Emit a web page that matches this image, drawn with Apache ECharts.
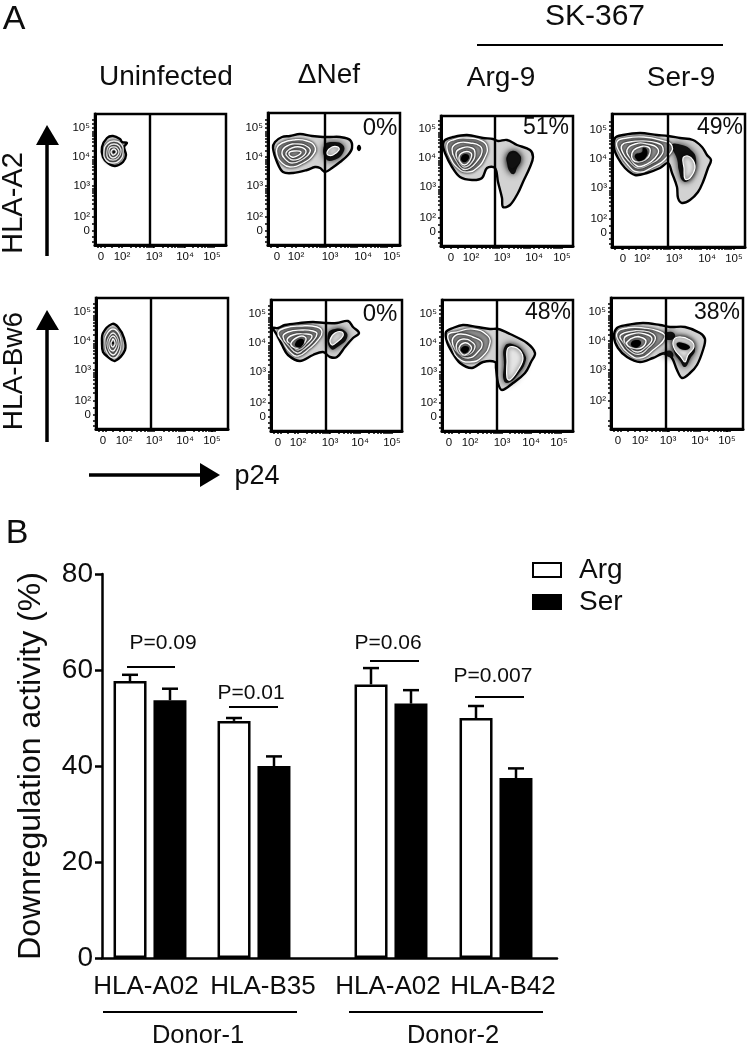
<!DOCTYPE html>
<html><head><meta charset="utf-8">
<style>html,body{margin:0;padding:0;background:#fff}#c{width:750px;height:1048px}</style>
<script src="https://cdn.jsdelivr.net/npm/echarts@6/dist/echarts.min.js"></script>
</head><body><div id="c"></div>
<script>
// ---------- Panel B data ----------
const categories = ['HLA-A02','HLA-B35','HLA-A02','HLA-B42'];
const groupPositions = [48,152,289,394];
const labelPositions = [44,161,286,401];
const argValues = [57.7,49.4,57,50];
const serValues = [53.7,40,53,37.5];
const argErrorTop = [59,50,60.4,52.5];
const serErrorTop = [56.1,42,55.8,39.5];
const pTexts = ['P=0.09','P=0.01','P=0.06','P=0.007'];
const pLineFrom = [25,127,268,373];
const pLineTo = [73,176,317,422];
const pLineValue = [60.6,52.3,61.9,54.4];
const pTextPos = [61,149,286,391];
const pTextValue = [65.6,55.2,65.6,58.8];
const yTicksB = [0,20,40,60,80];

// ---------- Panel A data: contours in channel units ----------
const xTickNames = ['0','10²','10³','10⁴','10⁵'];
const yTickNames = ['0','10²','10³','10⁴','10⁵'];
const xMinor = [3,10,17,24,36,41,45,49,52,54,56,58,68,73,77,80,83,85,87,89,98,103,107,110,113,115,117,119];
const yMinor = [3,8,21,36,41,45,49,52,54,56,66,71,75,78,81,83,85,94,99,103,106,109,111,113,121,125];
const yTicksCommon = [14,28,59,88,117];
const yTicksNoZero = [28,59,88,117];
const xTicksP1 = [6,27,59,90,117];
const xTicksP2 = [9,28,62,95,124];
const xTicksP3 = [10,30,61,93,121];
const xTicksP4 = [11,30,62,95,122];
const xTicksP5 = [7,28,58,89,116];
const xTicksP6 = [7,27,59,89,121];
const xTicksP7 = [7,28,60,89,117];
const xTicksP8 = [7,29,57,89,116];
const gates = [55,57,54,56,55,55,55,55];
const pctTexts = ['', '0%','51%','49%','', '0%','48%','38%'];

const p1Outlines = [[[7,98],[12,107],[18,109],[25,106],[27,103],[32,102],[29,98],[31,90],[28,83],[20,79],[13,82],[8,88]]];
const p1Darks = [];
const p1Contours = [
 [[9,93],[12,101],[19,104],[26,101],[28,93],[25,85],[18,82],[11,85]],
 [[12,93],[14,99],[19,101],[24,99],[26,93],[23,87],[18,85],[13,87]],
 [[14,93],[15,97],[19,98],[22,97],[24,93],[22,89],[18,87],[15,89]],
 [[16,93],[17,95],[19,96],[20.5,95],[21.5,93],[20,91],[18,90],[17,91]]];
const p1Lights = [];
const p1Cores = [[[18,93],[19,94],[20,93],[19,92]]];

const p2Outlines = [
 [[5,97],[7,103],[14,108],[22,109],[32,111],[44,109],[55,108],[62,108],[72,108],[82,105],[84,97],[80,90],[72,83],[64,77],[57,73],[52,77],[47,78],[39,75],[25,72],[15,73],[9,83]],
 [[90,97],[91,99],[92,97],[91,95]]];
const p2Darks = [[[56,99],[64,103],[75,100],[75,92],[66,85],[58,86]]];
const p2Contours = [
 [[9,97],[14,102],[25,105],[39,104],[47,98],[45,90],[35,82],[22,78],[14,82],[9,90]],
 [[14,93],[19,99],[30,101],[40,98],[42,93],[35,86],[24,82],[17,86]],
 [[18,92],[24,97],[32,98],[38,94],[34,88],[25,85],[20,88]],
 [[21,92],[26,94],[33,93],[29,89],[24,88]]];
const p2Lights = [[[59,93],[64,98],[70,98],[71,95],[65,90],[60,90]]];
const p2Cores = [];

const p3Outlines = [[[2,101],[4,106],[12,109],[26,111],[42,108],[52,107],[57,105],[66,106],[76,101],[89,96],[92,89],[89,79],[82,64],[77,53],[69,41],[62,39],[61,48],[57,64],[54,78],[46,78],[41,68],[31,66],[19,69],[11,79],[4,93]]];
const p3Darks = [
 [[66,90],[71,95],[78,92],[80,86],[76,78],[73,72],[69,74],[66,83]],
 [[67,89],[72,93],[78,90],[79,85],[74,79],[70,78],[67,83]]];
const p3Contours = [
 [[6,101],[12,106],[26,108],[41,105],[46,99],[44,89],[36,78],[26,74],[17,78],[9,89]],
 [[11,97],[17,103],[29,103],[39,100],[41,94],[37,86],[29,78],[22,77],[16,84]],
 [[15,93],[21,98],[31,98],[34,93],[31,84],[24,79],[19,83]],
 [[18,89],[23,94],[30,93],[30,88],[26,82],[21,82]]];
const p3Lights = [];
const p3Cores = [[[20,88],[24,92],[28,90],[26,85],[22,84]]];

const p4Outlines = [[[3,109],[11,112],[28,114],[45,112],[56,111],[68,109],[81,107],[90,100],[95,92],[99,87],[96,79],[91,65],[86,55],[78,47],[70,44],[66,49],[65,60],[60,74],[56,84],[48,79],[35,74],[23,72],[13,79],[6,89],[2,99]]];
const p4Darks = [[[60,102],[70,102],[80,96],[84,88],[82,76],[77,67],[71,66],[67,76],[65,88]]];
const p4Contours = [
 [[5,105],[15,109],[31,110],[48,107],[60,101],[55,90],[41,80],[26,75],[16,82],[8,94]],
 [[10,102],[18,105],[31,106],[45,104],[51,99],[48,90],[38,83],[26,79],[18,85],[11,94]],
 [[15,97],[23,103],[35,103],[46,98],[43,89],[33,82],[25,81],[18,89]],
 [[20,94],[25,99],[36,100],[38,94],[33,87],[26,85],[21,87]]];
const p4Lights = [[[71,89],[76,91],[81,87],[83,79],[78,69],[73,68],[72,79]]];
const p4Cores = [[[23,92],[30,95],[31,99],[35,97],[34,90],[28,86],[25,87]]];

const p5Outlines = [[[6,86],[7,96],[16,105],[22,102],[28,91],[29,79],[19,68],[12,72],[7,77]]];
const p5Darks = [];
const p5Contours = [
 [[9,86],[11,95],[17,100],[23,95],[25,85],[23,76],[18,71],[12,75]],
 [[11,86],[13,92],[17,96],[21,92],[23,85],[21,78],[17,74],[13,78]],
 [[13,86],[14,90],[17,93],[20,90],[21,85],[19,80],[17,78],[14,80]],
 [[15,86],[16,88],[17,90],[18.5,88],[19,85],[18,83],[17,82],[15.5,83]]];
const p5Lights = [];
const p5Cores = [[[16,86],[17,87],[18,86],[17,85]]];

const p6Outlines = [[[2,103],[7,103],[14,106],[29,108],[42,109],[54,108],[66,108],[77,110],[82,104],[88,98],[82,93],[74,84],[66,74],[59,74],[52,79],[42,76],[29,70],[17,76],[11,86],[6,96]]];
const p6Darks = [[[57,97],[64,102],[74,100],[76,93],[68,85],[60,82]]];
const p6Contours = [
 [[7,98],[14,103],[29,105],[46,104],[51,99],[47,91],[39,83],[27,75],[19,79],[12,89]],
 [[12,94],[17,99],[31,101],[42,100],[46,97],[41,89],[32,81],[26,78],[19,84]],
 [[16,91],[22,96],[34,97],[41,95],[36,88],[27,81],[21,86]],
 [[20,88],[27,94],[34,94],[34,89],[27,83],[22,84]]];
const p6Lights = [[[59,91],[64,98],[71,99],[72,95],[66,89],[61,86]]];
const p6Cores = [[[24,87],[29,92],[33,90],[30,84],[26,84]]];

const p7Outlines = [[[4,99],[11,103],[21,106],[35,104],[48,102],[56,102],[68,97],[85,88],[93,78],[89,69],[83,58],[71,48],[60,41],[56,48],[54,63],[53,69],[41,69],[30,63],[18,68],[10,79],[5,89]]];
const p7Darks = [[[63,85],[73,86],[83,76],[83,68],[77,58],[68,49],[62,50],[62,66]]];
const p7Contours = [
 [[6,96],[15,99],[31,102],[45,96],[48,88],[40,74],[28,69],[16,73],[10,84]],
 [[11,93],[18,97],[31,94],[40,88],[35,78],[26,73],[16,78],[11,86]],
 [[15,88],[21,92],[30,89],[33,84],[28,77],[20,76],[15,81]],
 [[17,83],[22,88],[28,86],[29,81],[23,76],[19,78]]];
const p7Lights = [[[66,83],[75,83],[81,73],[76,61],[68,51],[65,53],[65,69]]];
const p7Cores = [[[19,82],[23,85],[27,83],[24,78],[20,79]]];

const p8Outlines = [[[3,92],[6,101],[16,104],[32,106],[49,104],[59,102],[74,102],[89,96],[94,90],[92,79],[86,64],[79,56],[71,51],[66,59],[61,71],[54,76],[42,71],[29,67],[16,72],[7,81]]];
const p8Darks = [
 [[52,94],[61,97],[64,92],[57,89]],
 [[52,76],[60,78],[62,72],[55,73]],
 [[64,90],[78,90],[84,80],[79,70],[74,62],[69,68],[63,78]]];
const p8Contours = [
 [[6,96],[16,101],[32,101],[47,98],[54,92],[42,79],[29,71],[17,76],[9,86]],
 [[9,93],[17,97],[32,98],[42,95],[44,89],[37,81],[29,75],[19,78],[12,87]],
 [[13,90],[21,95],[34,95],[41,90],[34,81],[27,77],[19,81]],
 [[16,87],[24,92],[32,91],[35,87],[30,81],[22,81],[17,83]]];
const p8Lights = [[[62,87],[67,92],[79,89],[83,82],[77,74],[74,67],[70,72],[64,79]]];
const p8Cores = [[[20,86],[25,89],[30,87],[27,82],[22,82]],[[66,86],[72,86],[79,82],[74,79],[67,82]]];

// ---------- Assembly ----------
const FONT = '"Liberation Sans", Arial, sans-serif';
const INK = '#0d0d0d';
const layout = [
 [95,114,131,131],[268,113,132,132],[441,116,132,130],[612,114,133,133],
 [96,298,132,131],[271,300,131,131],[442,300,131,131],[611,298,132,131]];
const panelData = [
 [xTicksP1,yTicksCommon,p1Outlines,p1Darks,p1Contours,p1Lights,p1Cores],
 [xTicksP2,yTicksCommon,p2Outlines,p2Darks,p2Contours,p2Lights,p2Cores],
 [xTicksP3,yTicksCommon,p3Outlines,p3Darks,p3Contours,p3Lights,p3Cores],
 [xTicksP4,yTicksCommon,p4Outlines,p4Darks,p4Contours,p4Lights,p4Cores],
 [xTicksP5,yTicksCommon,p5Outlines,p5Darks,p5Contours,p5Lights,p5Cores],
 [xTicksP6,yTicksCommon,p6Outlines,p6Darks,p6Contours,p6Lights,p6Cores],
 [xTicksP7,yTicksCommon,p7Outlines,p7Darks,p7Contours,p7Lights,p7Cores],
 [xTicksP8,yTicksNoZero,p8Outlines,p8Darks,p8Contours,p8Lights,p8Cores]];
const STYLES = {
 outline:{fill:'#d2d2d2',stroke:'#000',lineWidth:2.4,smooth:0.35},
 dark:{fill:'#111',stroke:'#111',lineWidth:0,shadowBlur:7,shadowColor:'rgba(0,0,0,0.85)',smooth:0.5},
 contour:{fill:'#8c8c8c',stroke:'#fff',lineWidth:1.4,shadowBlur:3,shadowColor:'rgba(0,0,0,1)',smooth:0.5},
 light:{fill:'#e4e4e4',stroke:'#fff',lineWidth:1.2,shadowBlur:4,shadowColor:'rgba(0,0,0,0.9)',smooth:0.4},
 core:{fill:'#000',stroke:'#000',lineWidth:0,shadowBlur:3,shadowColor:'rgba(0,0,0,0.8)',smooth:0.5}
};
const grids=[],xAxes=[],yAxes=[],series=[];
panelData.forEach((pd,i)=>{
 const [l,t,w,h]=layout[i];
 const [xt,yt,outs,darks,conts,lights,cores]=pd;
 grids.push({left:l,top:t,width:w,height:h,show:true,borderColor:'#000',borderWidth:2.5,backgroundColor:'#fff',containLabel:false});
 const xNames={},yNames={};
 xt.forEach((v,k)=>xNames[v]=xTickNames[k]);
 const yn=yt.length===5?yTickNames:yTickNames.slice(1);
 yt.forEach((v,k)=>yNames[v]=yn[k]);
 xAxes.push({type:'value',gridIndex:i,min:0,max:w,splitLine:{show:false},
  axisLine:{show:true,lineStyle:{color:'#000',width:3}},
  axisTick:{show:true,length:3,inside:false,customValues:xt.concat(xMinor.filter(v=>v<w)),lineStyle:{color:'#000',width:1.5}},
  axisLabel:{customValues:xt,margin:6,fontFamily:FONT,fontSize:11.5,color:INK,formatter:v=>xNames[v]||''}});
 yAxes.push({type:'value',gridIndex:i,min:0,max:h,splitLine:{show:false},
  axisLine:{show:true,lineStyle:{color:'#000',width:3}},
  axisTick:{show:true,length:3,customValues:yt.concat(yMinor.filter(v=>v<h)),lineStyle:{color:'#000',width:1.5}},
  axisLabel:{customValues:yt,margin:5,fontFamily:FONT,fontSize:11.5,color:INK,formatter:v=>yNames[v]||''}});
 const layers=[].concat(
  outs.map(p=>['outline',p]),darks.map(p=>['dark',p]),conts.map(p=>['contour',p]),
  lights.map(p=>['light',p]),cores.map(p=>['core',p]));
 series.push({type:'custom',xAxisIndex:i,yAxisIndex:i,silent:true,z:3,clip:true,
  data:layers.map((_,k)=>[k]),
  renderItem:(params,api)=>{
   const [kind,pts]=layers[params.dataIndex];
   const s=STYLES[kind];
   return {type:'polygon',shape:{points:pts.map(p=>api.coord(p)),smooth:s.smooth},
    style:{fill:s.fill,stroke:s.stroke,lineWidth:s.lineWidth,shadowBlur:s.shadowBlur||0,shadowColor:s.shadowColor||'transparent'}};
  }});
 series.push({type:'line',xAxisIndex:i,yAxisIndex:i,silent:true,z:5,symbol:'none',
  data:[[gates[i],0],[gates[i],h]],lineStyle:{color:'#000',width:2.4}});
});

// Panel B
const B=8;
grids.push({left:102,top:574,width:455,height:384});
const labelName={};labelPositions.forEach((v,k)=>labelName[v]=categories[k]);
xAxes.push({type:'value',gridIndex:B,min:0,max:455,splitLine:{show:false},
 axisLine:{show:true,onZero:false,lineStyle:{color:'#000',width:2.5}},
 axisTick:{show:false},
 axisLabel:{customValues:labelPositions,margin:16,fontFamily:FONT,fontSize:26,color:INK,formatter:v=>labelName[v]||''}});
yAxes.push({type:'value',gridIndex:B,min:0,max:80,interval:20,splitLine:{show:false},
 name:'Downregulation activity (%)',nameLocation:'middle',nameGap:55,nameRotate:90,
 nameTextStyle:{fontFamily:FONT,fontSize:32,color:INK},
 axisLine:{show:true,lineStyle:{color:'#000',width:2.5}},
 axisTick:{show:true,length:7,lineStyle:{color:'#000',width:2.5}},
 axisLabel:{margin:9,fontFamily:FONT,fontSize:28,color:INK}});
series.push({name:'Arg',type:'bar',xAxisIndex:B,yAxisIndex:B,barWidth:33,barGap:'21%',z:3,silent:true,
 data:groupPositions.map((x,k)=>[x,argValues[k]]),
 itemStyle:{color:'#fff',borderColor:'#000',borderWidth:2.5}});
series.push({name:'Ser',type:'bar',xAxisIndex:B,yAxisIndex:B,barWidth:33,barGap:'21%',z:3,silent:true,
 data:groupPositions.map((x,k)=>[x,serValues[k]]),
 itemStyle:{color:'#000',borderColor:'#000',borderWidth:2.5}});
const errorSeries=(tops,base,off)=>({type:'custom',xAxisIndex:B,yAxisIndex:B,z:2,silent:true,
 data:groupPositions.map((x,k)=>[x,tops[k],base[k]]),
 renderItem:(params,api)=>{
  const t=api.coord([api.value(0),api.value(1)]),b=api.coord([api.value(0),api.value(2)]);
  const x=t[0]+off;
  const ls={stroke:'#000',lineWidth:2.5};
  return {type:'group',children:[
   {type:'line',shape:{x1:x,y1:t[1],x2:x,y2:b[1]},style:ls},
   {type:'line',shape:{x1:x-8,y1:t[1],x2:x+8,y2:t[1]},style:ls}]};
 }});
series.push(errorSeries(argErrorTop,argValues,-20));
series.push(errorSeries(serErrorTop,serValues,20));
series.push({type:'custom',xAxisIndex:B,yAxisIndex:B,z:4,silent:true,
 data:pTexts.map((_,k)=>[pLineFrom[k],pLineTo[k],pLineValue[k],pTextPos[k],pTextValue[k]]),
 renderItem:(params,api)=>{
  const a=api.coord([api.value(0),api.value(2)]),b=api.coord([api.value(1),api.value(2)]);
  const c=api.coord([api.value(3),api.value(4)]);
  return {type:'group',children:[
   {type:'line',shape:{x1:a[0],y1:a[1],x2:b[0],y2:b[1]},style:{stroke:'#000',lineWidth:2}},
   {type:'text',x:c[0],y:c[1],style:{text:pTexts[params.dataIndex],fontFamily:FONT,fontSize:21,fill:INK,align:'center',verticalAlign:'middle'}}]};
 }});

// Annotations
const txt=(text,x,y,size,extra)=>Object.assign({type:'text',x:x,y:y,z:10,silent:true,
 style:{text:text,font:size+'px '+FONT,fill:INK,textAlign:'center',textVerticalAlign:'middle'}},extra||{});
const ln=(x1,y1,x2,y2,w)=>({type:'line',z:10,silent:true,shape:{x1,y1,x2,y2},style:{stroke:'#000',lineWidth:w}});
const tri=(pts)=>({type:'polygon',z:10,silent:true,shape:{points:pts},style:{fill:'#000'}});
const graphics=[
 txt('A',14,20,34),txt('B',17,534,34),
 txt('Uninfected',166,77,28),txt('ΔNef',329,75,28),txt('Arg-9',501,78,28),txt('Ser-9',681,78,28),
 txt('SK-367',595,17,30),ln(477,45,723,45,2),
 txt('HLA-A2',14,203,29,{rotation:Math.PI/2}),txt('HLA-Bw6',14,371,28,{rotation:Math.PI/2}),
 ln(47,256,47,143,3.5),tri([[47,125],[36,145],[59,145]]),
 ln(47,442,47,328,3.5),tri([[47,310],[36,330],[59,330]]),
 ln(89,475,202,475,3.5),tri([[220,475],[200,463],[200,487]]),
 txt('p24',257,477,27),
 ln(103,1012,297,1012,2),ln(349,1012,543,1012,2),
 txt('Donor-1',198,1036,25.5),txt('Donor-2',453,1036,25.5)
];
const pctX=[0,380,546,720,0,380,548,717], pctY=[0,128,128,128,0,314,313,313];
pctTexts.forEach((t,i)=>{if(t)graphics.push(txt(t,pctX[i],pctY[i],i===1||i===5?24:23));});

const chart=echarts.init(document.getElementById('c'),null,{width:750,height:1048});
chart.setOption({
 animation:false,backgroundColor:'#fff',
 textStyle:{fontFamily:FONT},
 grid:grids,xAxis:xAxes,yAxis:yAxes,series:series,graphic:graphics,
 legend:{data:[{name:'Arg',icon:'rect'},{name:'Ser',icon:'rect'}],orient:'vertical',left:527,top:551,itemWidth:28,itemHeight:14,itemGap:4,selectedMode:false,
  textStyle:{fontFamily:FONT,fontSize:28,color:INK,padding:[0,0,0,13]}}
});
</script></body></html>
